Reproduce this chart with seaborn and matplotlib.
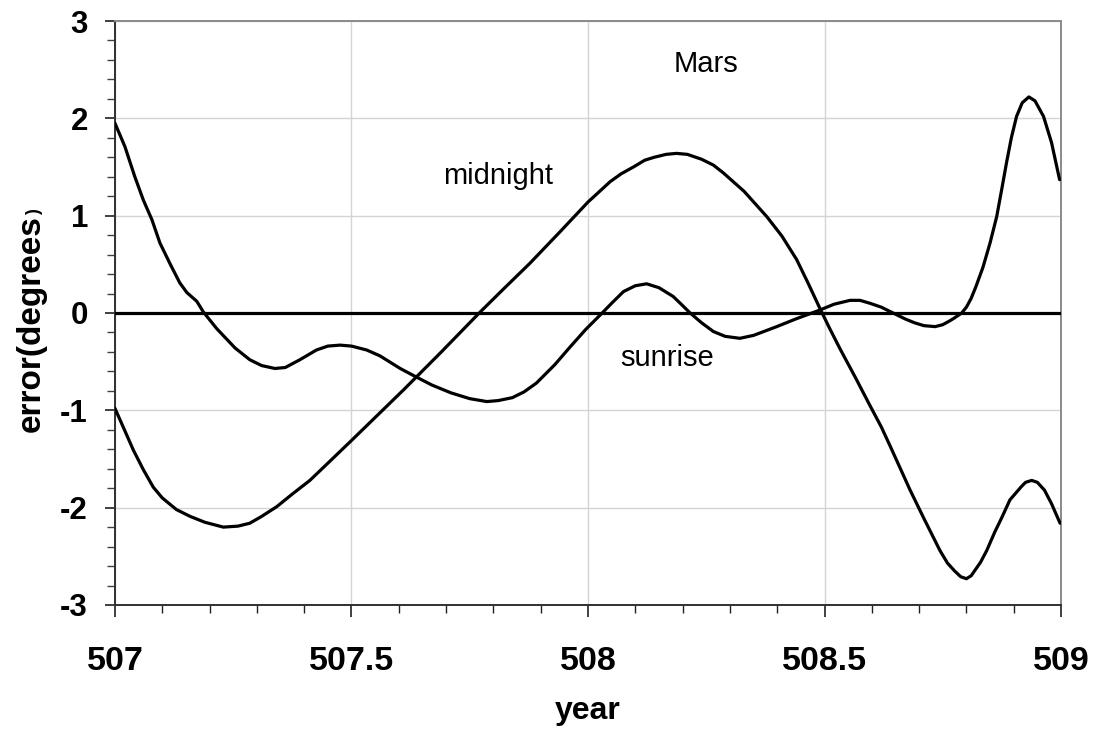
import matplotlib
matplotlib.use("Agg")
import matplotlib.pyplot as plt
from matplotlib.ticker import MultipleLocator
import seaborn as sns
import pandas as pd

# Error of the predicted position of Mars, in degrees, over two years
sunrise_year = [507.000, 507.021, 507.042, 507.060, 507.078, 507.095, 507.116, 507.137,
                507.152, 507.173, 507.187, 507.215, 507.254, 507.285, 507.310, 507.338,
                507.360, 507.391, 507.426, 507.450, 507.476, 507.500, 507.532, 507.560,
                507.603, 507.634, 507.670, 507.710, 507.750, 507.786, 507.810, 507.840,
                507.865, 507.891, 507.930, 507.962, 507.995, 508.032, 508.050, 508.075,
                508.100, 508.124, 508.150, 508.180, 508.195, 508.216, 508.240, 508.265,
                508.290, 508.321, 508.350, 508.399, 508.440, 508.490, 508.520, 508.554,
                508.575, 508.596, 508.620, 508.645, 508.670, 508.690, 508.710, 508.734,
                508.750, 508.765, 508.775, 508.790, 508.800, 508.810, 508.820, 508.835,
                508.850, 508.864, 508.875, 508.885, 508.895, 508.906, 508.918, 508.932,
                508.945, 508.963, 508.980, 508.997]
sunrise_err = [1.95, 1.71, 1.40, 1.16, 0.96, 0.72, 0.51, 0.31,
               0.21, 0.12, 0.01, -0.16, -0.36, -0.48, -0.54, -0.57,
               -0.56, -0.48, -0.38, -0.34, -0.33, -0.34, -0.38, -0.44,
               -0.57, -0.65, -0.74, -0.82, -0.88, -0.91, -0.90, -0.87,
               -0.81, -0.72, -0.53, -0.35, -0.17, 0.01, 0.10, 0.22,
               0.28, 0.30, 0.26, 0.17, 0.10, 0.00, -0.10, -0.19,
               -0.24, -0.26, -0.23, -0.14, -0.06, 0.03, 0.09, 0.13,
               0.13, 0.10, 0.06, 0.00, -0.06, -0.10, -0.13, -0.14,
               -0.12, -0.08, -0.05, 0.00, 0.06, 0.15, 0.27, 0.47,
               0.72, 0.99, 1.28, 1.55, 1.80, 2.02, 2.16, 2.22,
               2.18, 2.02, 1.75, 1.37]

midnight_year = [507.000, 507.020, 507.039, 507.060, 507.081, 507.100, 507.130, 507.159,
                 507.190, 507.229, 507.260, 507.285, 507.310, 507.342, 507.375, 507.412,
                 507.455, 507.500, 507.555, 507.610, 507.690, 507.772, 507.820, 507.877,
                 507.940, 508.000, 508.047, 508.070, 508.096, 508.120, 508.140, 508.165,
                 508.187, 508.210, 508.240, 508.265, 508.286, 508.330, 508.378, 508.410,
                 508.441, 508.465, 508.490, 508.510, 508.533, 508.565, 508.596, 508.620,
                 508.640, 508.681, 508.710, 508.744, 508.760, 508.775, 508.788, 508.800,
                 508.810, 508.820, 508.830, 508.843, 508.860, 508.875, 508.892, 508.915,
                 508.925, 508.938, 508.950, 508.965, 508.980, 508.998]
midnight_err = [-0.98, -1.20, -1.41, -1.61, -1.79, -1.90, -2.02, -2.09,
                -2.15, -2.20, -2.19, -2.16, -2.09, -1.99, -1.86, -1.72,
                -1.52, -1.31, -1.05, -0.79, -0.40, 0.01, 0.24, 0.51,
                0.83, 1.14, 1.35, 1.43, 1.50, 1.57, 1.60, 1.63,
                1.64, 1.63, 1.58, 1.52, 1.44, 1.25, 0.99, 0.79,
                0.55, 0.31, 0.05, -0.15, -0.37, -0.66, -0.95, -1.17,
                -1.38, -1.82, -2.11, -2.44, -2.57, -2.65, -2.71, -2.73,
                -2.70, -2.63, -2.56, -2.44, -2.25, -2.10, -1.92, -1.79,
                -1.74, -1.72, -1.74, -1.82, -1.96, -2.16]

zero_year = [507.0, 509.0]
zero_err = [0.0, 0.0]

x_ticks = [507, 507.5, 508, 508.5, 509]
x_tick_labels = ["507", "507.5", "508", "508.5", "509"]
y_ticks = [-3, -2, -1, 0, 1, 2, 3]
y_tick_labels = ["-3", "-2", "-1", "0", "1", "2", "3"]

sns.set_theme(style="white")
plt.rcParams["font.family"] = ["Liberation Sans", "DejaVu Sans"]
plt.rcParams["text.color"] = "black"
plt.rcParams["xtick.color"] = "black"
plt.rcParams["ytick.color"] = "black"
plt.rcParams["axes.labelcolor"] = "black"

fig = plt.figure(figsize=(10.97, 7.35), dpi=100)
ax = fig.add_axes([0.1048, 0.1769, 0.8624, 0.7945])

df_sun = pd.DataFrame({"year": sunrise_year, "err": sunrise_err})
df_mid = pd.DataFrame({"year": midnight_year, "err": midnight_err})
df_zero = pd.DataFrame({"year": zero_year, "err": zero_err})

for d in (df_zero, df_sun, df_mid):
    sns.lineplot(data=d, x="year", y="err", ax=ax, color="black",
                 linewidth=2.3, sort=False, estimator=None, zorder=3,
                 solid_joinstyle="round", solid_capstyle="round")

ax.set_xlim(507, 509)
ax.set_ylim(-3, 3)
ax.set_xticks(x_ticks)
ax.set_xticklabels(x_tick_labels, fontsize=24.5, fontweight="bold", color="black")
ax.set_yticks(y_ticks)
ax.set_yticklabels(y_tick_labels, fontsize=22.5, fontweight="bold", color="black")
ax.xaxis.set_minor_locator(MultipleLocator(0.1))
ax.yaxis.set_minor_locator(MultipleLocator(0.2))

ax.grid(True, which="major", color="#d4d4d4", linewidth=1.0)
ax.set_axisbelow(True)

ax.tick_params(axis="x", which="major", direction="out", length=8.5, width=1.2,
               color="#202020", pad=21, bottom=True)
ax.tick_params(axis="x", which="minor", direction="out", length=6, width=1.0,
               color="#202020", bottom=True)
ax.tick_params(axis="y", which="major", direction="out", length=7.5, width=1.2,
               color="#202020", pad=12, left=True)
ax.tick_params(axis="y", which="minor", direction="out", length=6, width=1.0,
               color="#404040", left=True)

for side in ("left", "bottom"):
    ax.spines[side].set_color("#303030")
    ax.spines[side].set_linewidth(1.4)
for side in ("top", "right"):
    ax.spines[side].set_color("#8a8a8a")
    ax.spines[side].set_linewidth(1.4)

ax.set_xlabel("year", fontsize=23, fontweight="bold", labelpad=14, color="black")
ax.set_ylabel("")

# y-axis title with a small closing parenthesis
ylab = ax.text(-0.088, 0.296, "error(degrees", transform=ax.transAxes,
               rotation=90, ha="center", va="bottom",
               fontsize=24, fontweight="bold", color="black")
fig.canvas.draw()
bb = ylab.get_window_extent()
fig.text(bb.x1 / fig.bbox.width - 0.004, bb.y1 / fig.bbox.height,
         ")", rotation=90, ha="right", va="bottom", fontsize=13,
         fontweight="bold", color="black")

ax.text(508.249, 2.56, "Mars", fontsize=21, ha="center", va="center", color="black")
ax.text(507.81, 1.41, "midnight", fontsize=21, ha="center", va="center", color="black")
ax.text(508.167, -0.46, "sunrise", fontsize=21, ha="center", va="center", color="black")

fig.savefig("out.png", dpi=100)
